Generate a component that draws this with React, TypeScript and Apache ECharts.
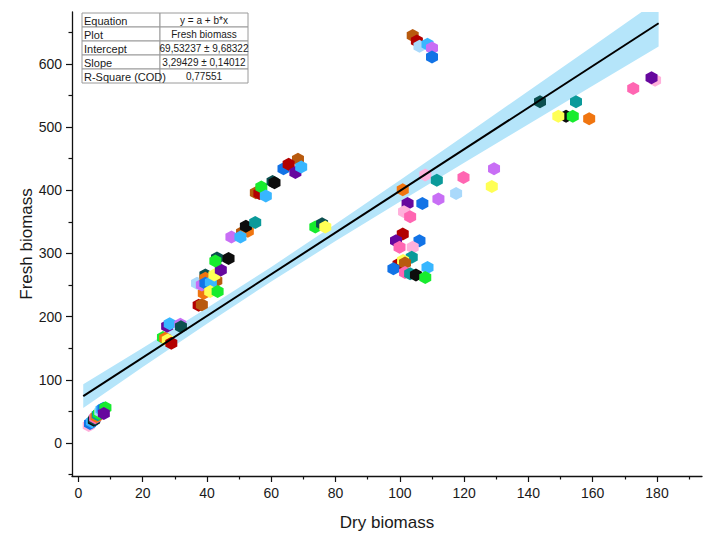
import React, { useEffect, useRef } from 'react';
import * as echarts from 'echarts';

// Point colours used by the scatter markers
const palette: Record<string, string> = {
  brown: '#b85a0e',
  darkRed: '#b30000',
  lightBlue: '#a9d9fb',
  sky: '#38b6ff',
  violet: '#c86ef5',
  blue: '#1273e6',
  pink: '#ff66b2',
  lightPink: '#ffb0db',
  purple: '#66079e',
  teal: '#0b9a9a',
  darkTeal: '#0b4f4f',
  green: '#17ec2e',
  yellow: '#ffff55',
  orange: '#f07510',
  black: '#0d0d0d',
};

// Observations: dry biomass (x) and fresh biomass (y), with each marker's colour
const dryBiomass = [
  3.2, 3.6, 4.2, 4.8, 5.0, 5.2, 5.6, 6.0, 6.4, 6.8, 7.2, 7.8, 8.4, 7.9,
  26.3, 27.0, 27.8, 27.6, 28.4, 28.9, 31.7, 31.9,
  37.4, 38.4, 39.0, 36.9, 38.4, 39.5, 39.5, 42.9, 39.5, 41.2, 41.0, 43.3, 42.3, 44.3, 43.1, 42.6, 46.7,
  47.6, 50.9, 52.7, 52.1, 50.4, 55.0, 55.2, 56.3, 56.9, 58.3, 60.4, 61.0, 63.8, 68.3, 65.4, 67.5, 69.3,
  73.7, 75.8, 76.8,
  104.0, 105.3, 106.1, 108.6, 110.0, 110.0,
  100.9, 107.9, 111.5, 119.8, 129.3, 128.6, 102.4, 107.0, 112.0, 117.5, 101.3, 103.2,
  100.9, 98.8, 106.1, 99.9, 104.0, 103.7, 99.6, 101.0, 101.6, 98.0, 108.6, 101.6, 103.2, 105.0, 107.9,
  143.6, 154.8, 151.7, 149.3, 153.8, 158.9, 172.6, 179.4, 178.3,
];

const freshBiomass = [
  28, 31, 34, 36, 38, 40, 42, 45, 47, 50, 53, 55, 56, 47,
  167, 166, 163, 185, 189, 158, 188, 184,
  218, 219, 237, 253, 250, 266, 261, 257, 253, 254, 240, 240, 266, 274, 293, 288, 292,
  326, 333, 335, 343, 326, 349, 396, 395, 405, 391, 414, 412, 434, 449, 441, 428, 437,
  342, 347, 342,
  645, 636, 628, 631, 625, 611,
  401, 424, 416, 420, 434, 406, 379, 379, 386, 395, 366, 358,
  331, 320, 320, 310, 310, 294, 283, 289, 285, 276, 278, 270, 268, 266, 262,
  540, 540, 517, 517, 517, 513, 561, 574, 578,
];

const pointColors = [
  'lightPink', 'blue', 'sky', 'black', 'darkTeal', 'pink', 'orange', 'teal', 'green', 'lightBlue', 'sky', 'blue', 'green', 'purple',
  'green', 'orange', 'yellow', 'purple', 'sky', 'darkRed', 'violet', 'darkTeal',
  'darkRed', 'brown', 'orange', 'lightBlue', 'violet', 'darkTeal', 'orange', 'brown', 'blue', 'sky', 'yellow', 'green', 'yellow', 'purple', 'darkTeal', 'green', 'black',
  'violet', 'brown', 'orange', 'black', 'sky', 'teal', 'brown', 'darkRed', 'green', 'sky', 'darkTeal', 'black', 'blue', 'brown', 'darkRed', 'purple', 'sky',
  'green', 'darkTeal', 'yellow',
  'brown', 'darkRed', 'lightBlue', 'sky', 'violet', 'blue',
  'orange', 'lightPink', 'teal', 'pink', 'violet', 'yellow', 'purple', 'blue', 'violet', 'lightBlue', 'lightPink', 'pink',
  'darkRed', 'purple', 'blue', 'pink', 'lightPink', 'teal', 'darkRed', 'yellow', 'brown', 'blue', 'sky', 'pink', 'teal', 'black', 'green',
  'darkTeal', 'teal', 'black', 'yellow', 'green', 'orange', 'pink', 'lightPink', 'purple',
];

// Linear fit y = a + b*x
const fitIntercept = 69.53237;
const fitSlope = 3.29429;
const fitRange = [1.5, 180.5];

// 95% confidence band: half-width around the fit at several x positions
const bandDry = [1.5, 20, 40, 60, 80, 100, 120, 140, 160, 180.5];
const bandHalfWidth = [18.8, 15.1, 12.3, 11.6, 13.5, 17.0, 21.4, 26.3, 31.3, 36.7];

// Statistics table
const tableLabels = ['Equation', 'Plot', 'Intercept', 'Slope', 'R-Square (COD)'];
const tableValues = ['y = a + b*x', 'Fresh biomass', '69,53237 ± 9,68322', '3,29429 ± 0,14012', '0,77551'];

// Axis ticks
const xMajorTicks = [0, 20, 40, 60, 80, 100, 120, 140, 160, 180];
const xMinorTicks = [10, 30, 50, 70, 90, 110, 130, 150, 170, 190];
const yMajorTicks = [0, 100, 200, 300, 400, 500, 600];
const yMinorTicks = [-50, 50, 150, 250, 350, 450, 550, 650];

const FONT = '"Liberation Sans", Arial, sans-serif';
const HEXAGON = 'path://M0,-1 L0.866,-0.5 L0.866,0.5 L0,1 L-0.866,0.5 L-0.866,-0.5 Z';

const fit = (x: number) => fitIntercept + fitSlope * x;

function buildTable() {
  const left = 82;
  const top = 13;
  const rowH = 14;
  const col1W = 78;
  const col2W = 88;
  const elements: any[] = [];
  tableLabels.forEach((label, i) => {
    const y = top + i * rowH;
    elements.push({
      type: 'rect',
      shape: { x: left, y, width: col1W, height: rowH },
      style: { fill: '#fff', stroke: '#9a9a9a', lineWidth: 1 },
    });
    elements.push({
      type: 'rect',
      shape: { x: left + col1W, y, width: col2W, height: rowH },
      style: { fill: '#fff', stroke: '#9a9a9a', lineWidth: 1 },
    });
    elements.push({
      type: 'text',
      x: left + 2,
      y: y + rowH / 2 + 0.5,
      style: { text: label, fill: '#1a1a1a', font: `11px ${FONT}`, align: 'left', verticalAlign: 'middle' },
    });
    elements.push({
      type: 'text',
      x: left + col1W + col2W / 2,
      y: y + rowH / 2 + 0.5,
      style: { text: tableValues[i], fill: '#1a1a1a', font: `10px ${FONT}`, align: 'center', verticalAlign: 'middle' },
    });
  });
  return elements;
}

export default function App() {
  const ref = useRef<HTMLDivElement>(null);

  useEffect(() => {
    if (!ref.current) return;
    const chart = echarts.init(ref.current, undefined, { renderer: 'svg' });

    const scatterData = dryBiomass.map((x, i) => ({
      value: [x, freshBiomass[i]],
      itemStyle: { color: palette[pointColors[i]], opacity: 1 },
    }));

    const bandData = bandDry.map((x, i) => [x, fit(x), bandHalfWidth[i]]);

    const axisLabelStyle = { fontSize: 14, color: '#1a1a1a', fontFamily: FONT };
    const nameStyle = { fontSize: 17, color: '#1a1a1a', fontFamily: FONT };

    chart.setOption({
      animation: false,
      backgroundColor: '#fff',
      grid: { left: 72, right: 16, top: 12, bottom: 74 },
      xAxis: [
        {
          type: 'value',
          min: -2,
          max: 194,
          position: 'bottom',
          name: 'Dry biomass',
          nameLocation: 'middle',
          nameGap: 38,
          nameTextStyle: nameStyle,
          axisLine: { show: true, onZero: false, lineStyle: { color: '#111', width: 1.3 } },
          axisTick: { show: true, length: 6, customValues: xMajorTicks, lineStyle: { color: '#111', width: 1.2 } },
          axisLabel: { ...axisLabelStyle, margin: 10, customValues: xMajorTicks },
          splitLine: { show: false },
        },
        {
          type: 'value',
          min: -2,
          max: 194,
          position: 'bottom',
          axisLine: { show: false, onZero: false },
          axisTick: { show: true, length: 3.5, customValues: xMinorTicks, lineStyle: { color: '#111', width: 1.2 } },
          axisLabel: { show: false },
          splitLine: { show: false },
        },
      ],
      yAxis: [
        {
          type: 'value',
          min: -52,
          max: 682,
          position: 'left',
          name: 'Fresh biomass',
          nameLocation: 'middle',
          nameGap: 37,
          nameMoveOverlap: false,
          nameTextStyle: nameStyle,
          axisLine: { show: true, onZero: false, lineStyle: { color: '#111', width: 1.3 } },
          axisTick: { show: true, length: 6, customValues: yMajorTicks, lineStyle: { color: '#111', width: 1.2 } },
          axisLabel: { ...axisLabelStyle, margin: 10, customValues: yMajorTicks },
          splitLine: { show: false },
        },
        {
          type: 'value',
          min: -52,
          max: 682,
          position: 'left',
          axisLine: { show: false, onZero: false },
          axisTick: { show: true, length: 3.5, customValues: yMinorTicks, lineStyle: { color: '#111', width: 1.2 } },
          axisLabel: { show: false },
          splitLine: { show: false },
        },
      ],
      series: [
        {
          type: 'custom',
          name: 'Confidence band',
          coordinateSystem: 'cartesian2d',
          xAxisIndex: 0,
          yAxisIndex: 0,
          clip: true,
          silent: true,
          data: bandData,
          encode: { x: 0, y: 1 },
          renderItem: (params: any, api: any) => {
            if (params.dataIndex !== 0) return null;
            const upper = bandData.map((d) => api.coord([d[0], d[1] + d[2]]));
            const lower = bandData.map((d) => api.coord([d[0], d[1] - d[2]])).reverse();
            return {
              type: 'polygon',
              shape: { points: upper.concat(lower) },
              style: { fill: '#b5e5fa' },
            };
          },
          z: 1,
        },
        {
          type: 'scatter',
          name: 'Fresh biomass',
          xAxisIndex: 0,
          yAxisIndex: 0,
          symbol: HEXAGON,
          symbolSize: [12, 13],
          data: scatterData,
          z: 2,
        },
        {
          type: 'line',
          name: 'Linear fit',
          xAxisIndex: 0,
          yAxisIndex: 0,
          symbol: 'none',
          data: fitRange.map((x) => [x, fit(x)]),
          lineStyle: { color: '#000', width: 2 },
          z: 3,
        },
      ],
      graphic: buildTable(),
    });

    return () => chart.dispose();
  }, []);

  return (
    <div
      ref={ref}
      style={{ position: 'fixed', left: 0, top: 0, width: 718, height: 550, background: '#fff' }}
    />
  );
}
